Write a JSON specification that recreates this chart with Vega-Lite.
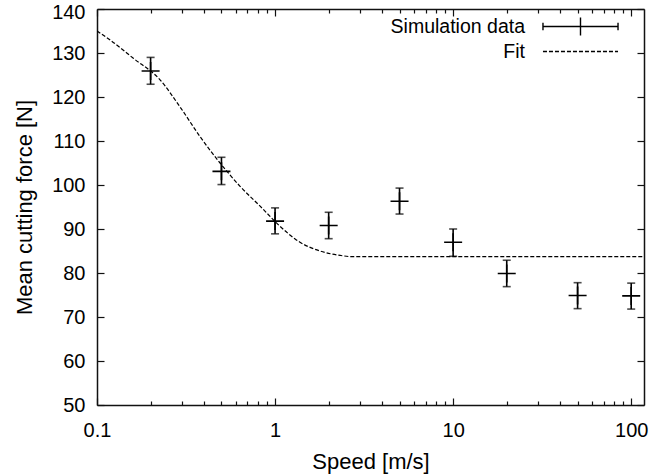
{
  "$schema": "https://vega.github.io/schema/vega-lite/v6.json",
  "width": 547,
  "height": 396,
  "autosize": {"type": "none"},
  "padding": {"left": 97, "top": 9, "right": 5, "bottom": 71},
  "background": "white",
  "config": {
    "view": {"stroke": null},
    "font": "Liberation Sans",
    "axis": {
      "grid": false,
      "domainColor": "#111",
      "domainWidth": 1.5,
      "tickColor": "#111",
      "tickWidth": 1.2,
      "labelColor": "black",
      "titleColor": "black",
      "labelFont": "Liberation Sans",
      "titleFont": "Liberation Sans",
      "labelFontSize": 20,
      "titleFontSize": 22,
      "titleFontWeight": "normal",
      "labelFlush": false,
      "labelOverlap": false
    }
  },
  "datasets": {
    "points": [
      {"speed": 0.2, "force": 125.9, "lo": 122.9, "hi": 129.0},
      {"speed": 0.5, "force": 103.1, "lo": 100.1, "hi": 106.3},
      {"speed": 1, "force": 91.8, "lo": 88.9, "hi": 94.8},
      {"speed": 2, "force": 90.8, "lo": 87.8, "hi": 93.8},
      {"speed": 5, "force": 96.3, "lo": 93.4, "hi": 99.3},
      {"speed": 10, "force": 87.0, "lo": 83.8, "hi": 90.0},
      {"speed": 20, "force": 79.9, "lo": 76.9, "hi": 82.9},
      {"speed": 50, "force": 74.9, "lo": 71.9, "hi": 77.8},
      {"speed": 100, "force": 74.8, "lo": 71.8, "hi": 77.7}
    ],
    "fit": [
      {"speed": 0.1, "force": 135.0},
      {"speed": 0.118, "force": 133.0},
      {"speed": 0.16, "force": 128.8},
      {"speed": 0.226, "force": 123.9},
      {"speed": 0.292, "force": 117.8},
      {"speed": 0.379, "force": 111.0},
      {"speed": 0.491, "force": 105.0},
      {"speed": 0.636, "force": 99.7},
      {"speed": 0.824, "force": 95.2},
      {"speed": 1.067, "force": 90.6},
      {"speed": 1.29, "force": 87.8},
      {"speed": 1.38, "force": 87.0},
      {"speed": 1.79, "force": 85.0},
      {"speed": 2.32, "force": 84.0},
      {"speed": 2.74, "force": 83.7},
      {"speed": 5, "force": 83.7},
      {"speed": 10, "force": 83.7},
      {"speed": 50, "force": 83.7},
      {"speed": 118, "force": 83.7}
    ]
  },
  "resolve": {"axis": {"x": "independent", "y": "independent"}},
  "layer": [
    {
      "data": {"name": "fit"},
      "mark": {"type": "line", "strokeDash": [4, 2], "strokeWidth": 1.2, "interpolate": "monotone", "clip": true},
      "encoding": {
        "x": {
          "field": "speed", "type": "quantitative",
          "scale": {"type": "log", "domain": [0.1, 118], "nice": false},
          "axis": {
            "orient": "bottom",
            "title": "Speed [m/s]",
            "titlePadding": 8,
            "values": [0.1, 0.2, 0.3, 0.4, 0.5, 0.6, 0.7, 0.8, 0.9, 1, 2, 3, 4, 5, 6, 7, 8, 9, 10, 20, 30, 40, 50, 60, 70, 80, 90, 100],
            "labelExpr": "(datum.value == 0.1 || datum.value == 1 || datum.value == 10 || datum.value == 100) ? format(datum.value, '~g') : ''",
            "tickSize": {"condition": {"test": "datum.value == 0.1 || datum.value == 1 || datum.value == 10 || datum.value == 100", "value": -7}, "value": -4},
            "labelPadding": 22
          }
        },
        "y": {
          "field": "force", "type": "quantitative",
          "scale": {"domain": [50, 140], "nice": false, "zero": false},
          "axis": {
            "orient": "left",
            "title": "Mean cutting force [N]",
            "titlePadding": 15,
            "values": [50, 60, 70, 80, 90, 100, 110, 120, 130, 140],
            "tickSize": -7,
            "labelPadding": 19,
            "labelOffset": {"condition": {"test": "datum.value == 140", "value": 3}, "value": 0}
          }
        },
        "color": {
          "datum": "Fit",
          "scale": {"domain": ["Simulation data", "Fit"], "range": ["black", "black"]},
          "legend": {
            "orient": "none",
            "legendX": 473,
            "legendY": 7,
            "title": null,
            "padding": 0,
            "labelFont": "Liberation Sans",
            "labelFontSize": 19.5,
            "labelColor": "black",
            "labelAlign": "right",
            "labelOffset": -66,
            "symbolSize": 352,
            "symbolStrokeWidth": 1.4,
            "rowPadding": 2,
            "encode": {
              "symbols": {
                "update": {
                  "shape": {"signal": "datum.value === 'Fit' ? 'M-4,0H4' : 'M-4,0H4M0,-0.96V0.96M-4,-0.4V0.4M4,-0.4V0.4'"},
                  "strokeDash": {"signal": "datum.value === 'Fit' ? [4, 2] : [1, 0]"},
                  "stroke": {"value": "black"},
                  "fill": {"value": "transparent"}
                }
              }
            }
          }
        }
      }
    },
    {
      "data": {"name": "points"},
      "mark": {"type": "rule", "strokeWidth": 1.6},
      "encoding": {
        "x": {
          "field": "speed", "type": "quantitative",
          "axis": {
            "orient": "top",
            "title": null,
            "labels": false,
            "values": [0.1, 0.2, 0.3, 0.4, 0.5, 0.6, 0.7, 0.8, 0.9, 1, 2, 3, 4, 5, 6, 7, 8, 9, 10, 20, 30, 40, 50, 60, 70, 80, 90, 100],
            "tickSize": {"condition": {"test": "datum.value == 0.1 || datum.value == 1 || datum.value == 10 || datum.value == 100", "value": -7}, "value": -4}
          }
        },
        "y": {
          "field": "lo", "type": "quantitative",
          "axis": {
            "orient": "right",
            "title": null,
            "labels": false,
            "values": [50, 60, 70, 80, 90, 100, 110, 120, 130, 140],
            "tickSize": -7
          }
        },
        "y2": {"field": "hi"},
        "color": {"datum": "Simulation data"}
      }
    },
    {
      "data": {"name": "points"},
      "mark": {"type": "tick", "orient": "horizontal", "size": 8, "thickness": 1.6, "color": "black"},
      "encoding": {
        "x": {"field": "speed", "type": "quantitative", "axis": null},
        "y": {"field": "lo", "type": "quantitative", "axis": null}
      }
    },
    {
      "data": {"name": "points"},
      "mark": {"type": "tick", "orient": "horizontal", "size": 8, "thickness": 1.6, "color": "black"},
      "encoding": {
        "x": {"field": "speed", "type": "quantitative", "axis": null},
        "y": {"field": "hi", "type": "quantitative", "axis": null}
      }
    },
    {
      "data": {"name": "points"},
      "mark": {"type": "point", "shape": "M-1,0H1M0,-1V1", "size": 324, "filled": false, "strokeWidth": 1.6, "color": "black", "opacity": 1},
      "encoding": {
        "x": {"field": "speed", "type": "quantitative", "axis": null},
        "y": {"field": "force", "type": "quantitative", "axis": null}
      }
    }
  ]
}
